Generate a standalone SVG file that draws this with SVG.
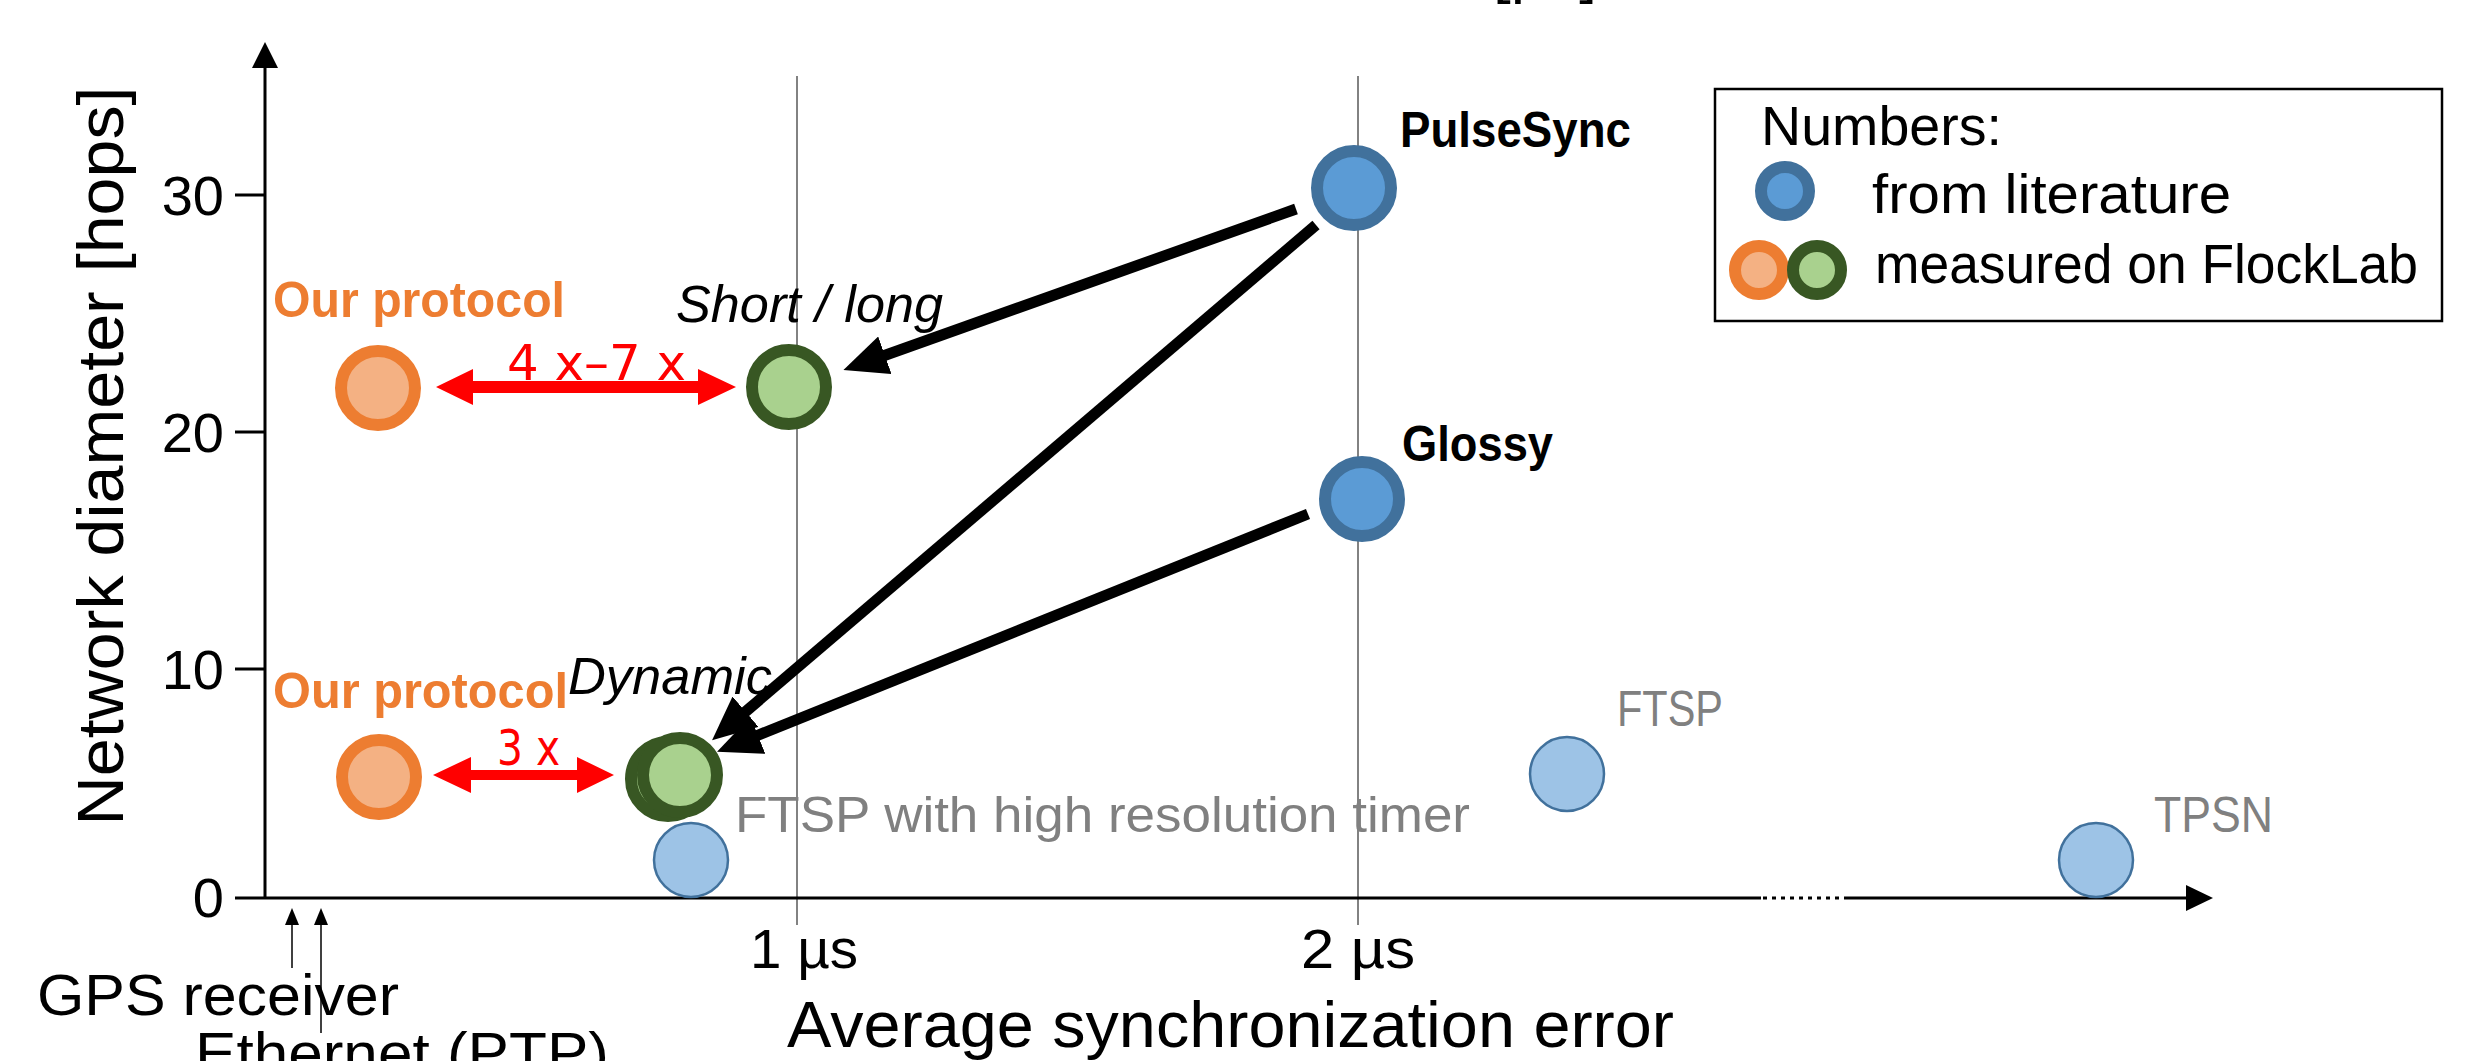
<svg xmlns="http://www.w3.org/2000/svg" width="2488" height="1061" viewBox="0 0 2488 1061">
<style>
text{font-family:"Liberation Sans",Arial,sans-serif;fill:#000}
.tick{font-size:56px}
.title{font-size:64px}
.leg{font-size:55px}
.bold{font-size:50px;font-weight:bold}
.ital{font-size:52px;font-style:italic}
.orange{fill:#ED7D31}
.gray{fill:#808080;font-size:50px}
.red{fill:#FF0000;font-size:50px;font-family:"DejaVu Sans",sans-serif}
.lit{fill:#5B9BD5;stroke:#41719C;stroke-width:12}
.ora{fill:#F4B183;stroke:#ED7D31;stroke-width:12}
.grn{fill:#A9D18E;stroke:#385723;stroke-width:12}
.lb{fill:#9DC3E6;stroke:#41719C;stroke-width:2.5}
.grid{stroke:#595959;stroke-width:1.5}
.axis{stroke:#000;stroke-width:3;fill:none}
.conn{stroke:#000;stroke-width:11;fill:none}
</style>
<defs>
<marker id="ah" markerUnits="userSpaceOnUse" markerWidth="46" markerHeight="40" refX="2" refY="20" orient="auto">
<path d="M0,0 L44,20 L0,40 z" fill="#000"/>
</marker>
</defs>
<rect width="2488" height="1061" fill="#fff"/>

<g id="axes">
<line class="grid" x1="797" y1="76" x2="797" y2="925"/>
<line class="grid" x1="1358" y1="76" x2="1358" y2="925"/>
<line class="axis" x1="265" y1="66" x2="265" y2="899"/>
<path d="M265,42 L278,68 L252,68 z" fill="#000"/>
<line class="axis" x1="235" y1="898" x2="1761" y2="898"/>
<line x1="1763" y1="898" x2="1843" y2="898" stroke="#000" stroke-width="3" stroke-dasharray="4,5"/>
<line class="axis" x1="1844" y1="898" x2="2188" y2="898"/>
<path d="M2213,898 L2186,885 L2186,911 z" fill="#000"/>
<line class="axis" x1="235" y1="195" x2="265" y2="195"/>
<line class="axis" x1="235" y1="432" x2="265" y2="432"/>
<line class="axis" x1="235" y1="669" x2="265" y2="669"/>
<text class="tick" x="224" y="215" text-anchor="end">30</text>
<text class="tick" x="224" y="452" text-anchor="end">20</text>
<text class="tick" x="224" y="689" text-anchor="end">10</text>
<text class="tick" x="224" y="917" text-anchor="end">0</text>
<text class="tick" x="750" y="968" textLength="108" lengthAdjust="spacingAndGlyphs">1 µs</text>
<text class="tick" x="1301" y="968" textLength="114" lengthAdjust="spacingAndGlyphs">2 µs</text>
<text class="title" transform="translate(123,456) rotate(-90)" text-anchor="middle" textLength="739" lengthAdjust="spacingAndGlyphs">Network diameter [hops]</text>
<text class="title" x="787" y="1047" textLength="887" lengthAdjust="spacingAndGlyphs">Average synchronization error</text>
<text style="font-size:60px" x="1493" y="-8" textLength="104" lengthAdjust="spacingAndGlyphs">[µs]</text>
</g>

<g id="ref-arrows">
<line x1="292" y1="968" x2="292" y2="920" stroke="#000" stroke-width="1.5"/>
<path d="M292,908 L299,925 L285,925 z" fill="#000"/>
<line x1="321" y1="1033" x2="321" y2="920" stroke="#000" stroke-width="1.5"/>
<path d="M321,908 L328,925 L314,925 z" fill="#000"/>
<text class="title" style="font-size:58px" x="37" y="1015" textLength="362" lengthAdjust="spacingAndGlyphs">GPS receiver</text>
<text class="title" style="font-size:58px" x="195" y="1073" textLength="414" lengthAdjust="spacingAndGlyphs">Ethernet (PTP)</text>
</g>

<g id="connectors">
<line class="conn" x1="1296" y1="209" x2="883" y2="356" marker-end="url(#ah)"/>
<line class="conn" x1="1316" y1="225" x2="744" y2="713" marker-end="url(#ah)"/>
<line class="conn" x1="1308" y1="514" x2="756" y2="736" marker-end="url(#ah)"/>
<path d="M436,387 L473,369 L473,381 L698,381 L698,369 L736,387 L698,405 L698,393 L473,393 L473,405 z" fill="#FF0000"/>
<path d="M433,775 L471,757 L471,770 L577,770 L577,757 L614,775 L577,793 L577,780 L471,780 L471,793 z" fill="#FF0000"/>
<text class="red" x="507" y="380" textLength="179" lengthAdjust="spacingAndGlyphs">4 x–7 x</text>
<text class="red" x="497" y="765" textLength="63" lengthAdjust="spacingAndGlyphs">3 x</text>
</g>

<g id="node-pulsesync">
<circle class="lit" cx="1354" cy="188" r="37"/>
<text class="bold" x="1400" y="147" textLength="231" lengthAdjust="spacingAndGlyphs">PulseSync</text>
</g>
<g id="node-glossy">
<circle class="lit" cx="1362" cy="499" r="37"/>
<text class="bold" x="1402" y="461" textLength="151" lengthAdjust="spacingAndGlyphs">Glossy</text>
</g>
<g id="node-our-top">
<circle class="ora" cx="378" cy="388" r="37"/>
<text class="bold orange" x="273" y="317" textLength="292" lengthAdjust="spacingAndGlyphs">Our protocol</text>
</g>
<g id="node-shortlong">
<circle class="grn" cx="789" cy="387" r="37"/>
<text class="ital" x="676" y="322" textLength="267" lengthAdjust="spacingAndGlyphs">Short / long</text>
</g>
<g id="node-our-bottom">
<circle class="ora" cx="379" cy="777" r="37"/>
<text class="bold orange" x="273" y="708" textLength="295" lengthAdjust="spacingAndGlyphs">Our protocol</text>
</g>
<g id="node-dynamic">
<circle class="grn" cx="668" cy="779" r="37"/>
<circle class="grn" cx="680" cy="775" r="37"/>
<text class="ital" x="568" y="694" textLength="204" lengthAdjust="spacingAndGlyphs">Dynamic</text>
</g>
<g id="node-ftsp-hr">
<circle class="lb" cx="691" cy="860" r="37"/>
<text class="gray" x="735" y="832" textLength="735" lengthAdjust="spacingAndGlyphs">FTSP with high resolution timer</text>
</g>
<g id="node-ftsp">
<circle class="lb" cx="1567" cy="774" r="37"/>
<text class="gray" x="1617" y="726" textLength="106" lengthAdjust="spacingAndGlyphs">FTSP</text>
</g>
<g id="node-tpsn">
<circle class="lb" cx="2096" cy="860" r="37"/>
<text class="gray" x="2154" y="832" textLength="119" lengthAdjust="spacingAndGlyphs">TPSN</text>
</g>

<g id="legend">
<rect x="1715" y="89" width="727" height="232" fill="#fff" stroke="#000" stroke-width="2.5"/>
<text class="leg" x="1761" y="145" textLength="241" lengthAdjust="spacingAndGlyphs">Numbers:</text>
<circle cx="1785" cy="191" r="24" fill="#5B9BD5" stroke="#41719C" stroke-width="12"/>
<text class="leg" x="1872" y="213" textLength="359" lengthAdjust="spacingAndGlyphs">from literature</text>
<circle cx="1759" cy="270" r="24" fill="#F4B183" stroke="#ED7D31" stroke-width="12"/>
<circle cx="1817" cy="270" r="24" fill="#A9D18E" stroke="#385723" stroke-width="12"/>
<text class="leg" x="1875" y="283" textLength="543" lengthAdjust="spacingAndGlyphs">measured on FlockLab</text>
</g>
</svg>
